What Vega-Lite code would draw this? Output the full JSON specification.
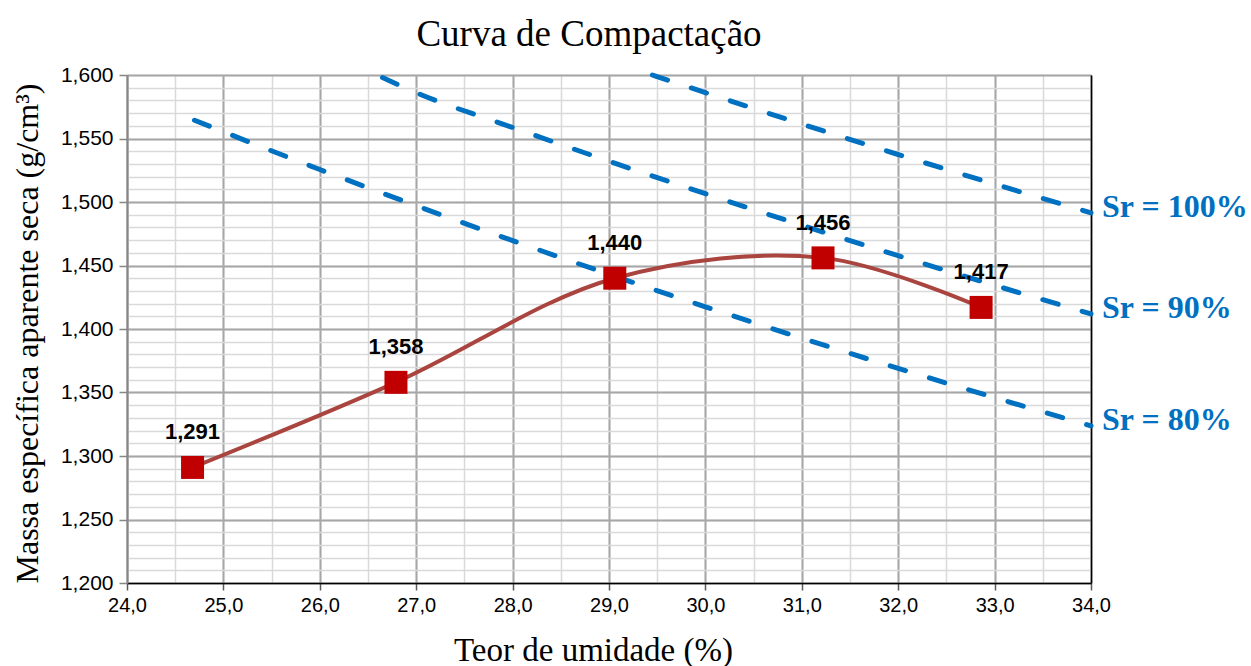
{
  "$schema": "https://vega.github.io/schema/vega-lite/v6.json",
  "width": 964,
  "height": 508,
  "autosize": "none",
  "padding": {"left": 127, "top": 75, "right": 160, "bottom": 83},
  "background": "white",
  "title": {
    "text": "Curva de Compactação",
    "font": "Liberation Serif",
    "fontSize": 37,
    "fontWeight": "normal",
    "color": "#000000",
    "anchor": "middle",
    "baseline": "alphabetic",
    "dx": -20,
    "offset": -19
  },
  "datasets": {
    "pontos": [
      {"w": 24.68, "d": 1.291},
      {"w": 26.79, "d": 1.358},
      {"w": 29.06, "d": 1.440},
      {"w": 31.22, "d": 1.456},
      {"w": 32.86, "d": 1.417}
    ],
    "sr": [
      {"serie": "Sr100", "w": 29.45, "d": 1.600},
      {"serie": "Sr100", "w": 30.0, "d": 1.5861},
      {"serie": "Sr100", "w": 31.0, "d": 1.5614},
      {"serie": "Sr100", "w": 32.0, "d": 1.5374},
      {"serie": "Sr100", "w": 33.0, "d": 1.5141},
      {"serie": "Sr100", "w": 34.0, "d": 1.4915},
      {"serie": "Sr90", "w": 26.65, "d": 1.598},
      {"serie": "Sr90", "w": 27.0, "d": 1.5861},
      {"serie": "Sr90", "w": 28.0, "d": 1.5587},
      {"serie": "Sr90", "w": 29.0, "d": 1.5321},
      {"serie": "Sr90", "w": 30.0, "d": 1.5065},
      {"serie": "Sr90", "w": 31.0, "d": 1.4817},
      {"serie": "Sr90", "w": 32.0, "d": 1.4577},
      {"serie": "Sr90", "w": 33.0, "d": 1.4344},
      {"serie": "Sr90", "w": 34.0, "d": 1.4119},
      {"serie": "Sr80", "w": 24.7, "d": 1.5644},
      {"serie": "Sr80", "w": 25.0, "d": 1.5553},
      {"serie": "Sr80", "w": 26.0, "d": 1.5256},
      {"serie": "Sr80", "w": 27.0, "d": 1.4971},
      {"serie": "Sr80", "w": 28.0, "d": 1.4696},
      {"serie": "Sr80", "w": 29.0, "d": 1.4431},
      {"serie": "Sr80", "w": 30.0, "d": 1.4175},
      {"serie": "Sr80", "w": 31.0, "d": 1.3928},
      {"serie": "Sr80", "w": 32.0, "d": 1.3690},
      {"serie": "Sr80", "w": 33.0, "d": 1.3460},
      {"serie": "Sr80", "w": 34.0, "d": 1.3237}
    ],
    "rotulos": [
      {"label": "Sr = 100%", "w": 34.0, "d": 1.4915},
      {"label": "Sr = 90%", "w": 34.0, "d": 1.4119},
      {"label": "Sr = 80%", "w": 34.0, "d": 1.3237}
    ]
  },
  "layer": [
    {
      "data": {"name": "sr"},
      "mark": {"type": "line", "color": "#0070C0", "strokeWidth": 5, "strokeDash": [16, 25], "strokeCap": "round", "interpolate": "monotone"},
      "encoding": {
        "x": {
          "field": "w", "type": "quantitative",
          "scale": {"domain": [24, 34], "nice": false, "zero": false},
          "axis": {
            "orient": "bottom",
            "values": [24, 24.5, 25, 25.5, 26, 26.5, 27, 27.5, 28, 28.5, 29, 29.5, 30, 30.5, 31, 31.5, 32, 32.5, 33, 33.5, 34],
            "grid": true, "gridColor": "#d9d9d9", "gridWidth": 1.5,
            "labels": false, "ticks": false, "domain": false, "title": null
          }
        },
        "y": {
          "field": "d", "type": "quantitative",
          "scale": {"domain": [1.2, 1.6], "nice": false, "zero": false},
          "axis": {
            "orient": "left",
            "values": [1.2, 1.21, 1.22, 1.23, 1.24, 1.25, 1.26, 1.27, 1.28, 1.29, 1.3, 1.31, 1.32, 1.33, 1.34, 1.35, 1.36, 1.37, 1.38, 1.39, 1.4, 1.41, 1.42, 1.43, 1.44, 1.45, 1.46, 1.47, 1.48, 1.49, 1.5, 1.51, 1.52, 1.53, 1.54, 1.55, 1.56, 1.57, 1.58, 1.59, 1.6],
            "grid": true, "gridColor": "#d9d9d9", "gridWidth": 1.5,
            "labels": false, "ticks": false, "domain": false, "title": null
          }
        },
        "detail": {"field": "serie"}
      }
    },
    {
      "data": {"name": "pontos"},
      "mark": {"type": "line", "color": "#A9443F", "strokeWidth": 4, "interpolate": "catmull-rom"},
      "encoding": {
        "x": {
          "field": "w", "type": "quantitative",
          "scale": {"domain": [24, 34], "nice": false, "zero": false},
          "axis": {
            "orient": "bottom",
            "values": [24, 25, 26, 27, 28, 29, 30, 31, 32, 33, 34],
            "format": ".1f",
            "labelFlush": false,
            "grid": true, "gridColor": "#a6a6a6", "gridWidth": 2,
            "domain": true, "domainColor": "#000000", "domainWidth": 1.5,
            "ticks": true, "tickColor": "#595959", "tickSize": 7, "tickWidth": 1.5,
            "labelFont": "Liberation Sans", "labelFontSize": 20, "labelColor": "#000000", "labelPadding": 5,
            "title": "Teor de umidade (%)",
            "titleFont": "Liberation Serif", "titleFontSize": 33, "titleFontWeight": "normal", "titleColor": "#000000",
            "titleX": 466, "titleY": 77, "titleBaseline": "alphabetic", "titleAlign": "center"
          }
        },
        "y": {
          "field": "d", "type": "quantitative",
          "scale": {"domain": [1.2, 1.6], "nice": false, "zero": false},
          "axis": {
            "orient": "left",
            "values": [1.2, 1.25, 1.3, 1.35, 1.4, 1.45, 1.5, 1.55, 1.6],
            "format": ".3f",
            "labelFlush": false,
            "grid": true, "gridColor": "#a6a6a6", "gridWidth": 2,
            "domain": true, "domainColor": "#868686", "domainWidth": 2,
            "ticks": true, "tickColor": "#868686", "tickSize": 8, "tickWidth": 1.5,
            "labelFont": "Liberation Sans", "labelFontSize": 21, "labelColor": "#000000", "labelPadding": 6,
            "title": "Massa específica  aparente seca (g/cm³)",
            "titleFont": "Liberation Serif", "titleFontSize": 32, "titleFontWeight": "normal", "titleColor": "#000000",
            "titleAngle": 270, "titleX": -100, "titleY": 258, "titleBaseline": "middle", "titleAlign": "center"
          }
        }
      }
    },
    {
      "data": {"name": "pontos"},
      "mark": {"type": "square", "color": "#C00000", "filled": true, "opacity": 1, "size": 529},
      "encoding": {
        "x": {"field": "w", "type": "quantitative", "scale": {"domain": [24, 34], "nice": false, "zero": false}, "axis": null},
        "y": {"field": "d", "type": "quantitative", "scale": {"domain": [1.2, 1.6], "nice": false, "zero": false}, "axis": null}
      }
    },
    {
      "data": {"name": "pontos"},
      "mark": {"type": "text", "font": "Liberation Sans", "fontSize": 22, "fontWeight": "bold", "color": "#000000", "align": "center", "baseline": "alphabetic", "dy": -28},
      "encoding": {
        "x": {"field": "w", "type": "quantitative", "scale": {"domain": [24, 34], "nice": false, "zero": false}, "axis": null},
        "y": {"field": "d", "type": "quantitative", "scale": {"domain": [1.2, 1.6], "nice": false, "zero": false}, "axis": null},
        "text": {"field": "d", "type": "quantitative", "format": ".3f"}
      }
    },
    {
      "data": {"name": "rotulos"},
      "mark": {"type": "text", "font": "Liberation Serif", "fontSize": 32, "fontWeight": "bold", "color": "#0070C0", "align": "left", "baseline": "middle", "dx": 11, "dy": -6},
      "encoding": {
        "x": {"field": "w", "type": "quantitative", "scale": {"domain": [24, 34], "nice": false, "zero": false}, "axis": null},
        "y": {
          "field": "d", "type": "quantitative",
          "scale": {"domain": [1.2, 1.6], "nice": false, "zero": false},
          "axis": {"orient": "right", "values": [], "grid": false, "labels": false, "ticks": false, "domain": true, "domainColor": "#000000", "domainWidth": 1.5, "title": null}
        },
        "text": {"field": "label", "type": "nominal"}
      }
    }
  ],
  "resolve": {"axis": {"x": "independent", "y": "independent"}},
  "config": {
    "view": {"stroke": null},
    "locale": {"number": {"decimal": ",", "thousands": ".", "grouping": [3], "currency": ["R$", ""]}}
  }
}
